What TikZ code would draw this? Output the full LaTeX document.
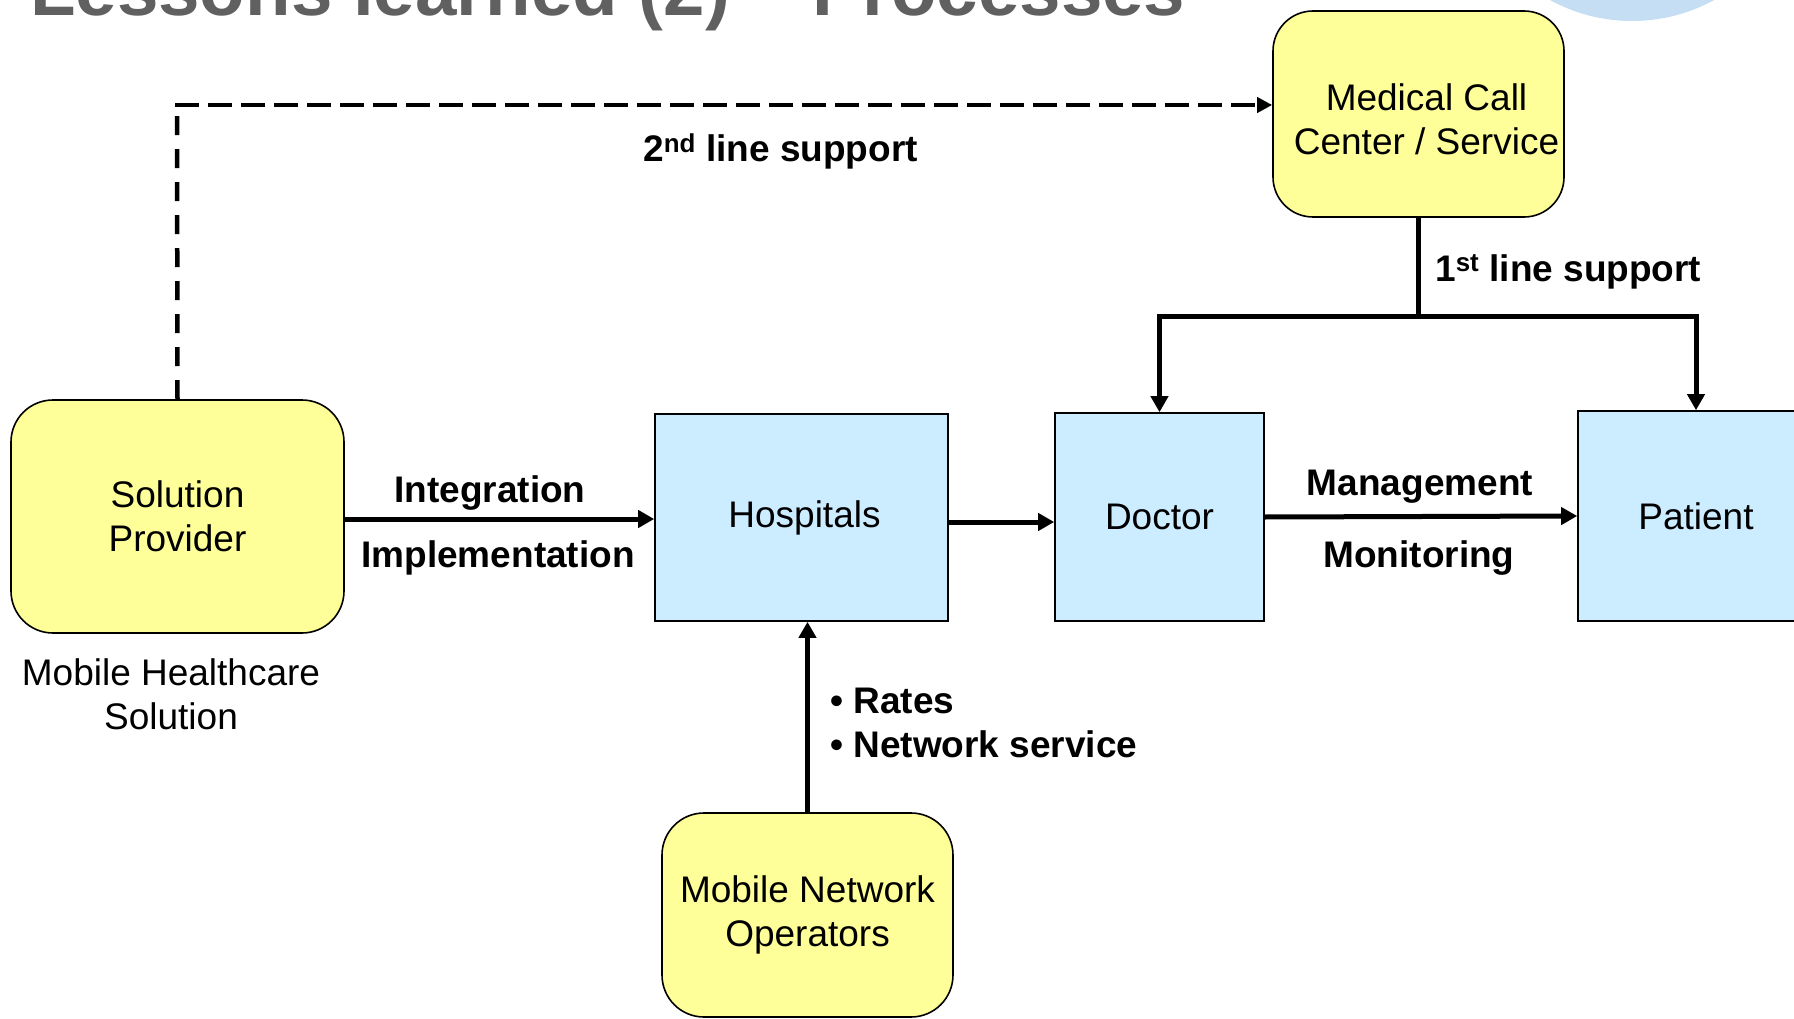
\documentclass[tikz,border=0pt]{standalone}
\usepackage{fontspec}
\setmainfont{Liberation Sans}
\usetikzlibrary{arrows.meta}
\definecolor{boxyellow}{HTML}{FFFF99}
\definecolor{boxblue}{HTML}{CCECFF}
\definecolor{titlegray}{HTML}{606060}
\definecolor{bubble}{HTML}{C6DEF4}
\begin{document}
\begin{tikzpicture}[x=1pt,y=-1pt,
  txt/.style={font=\fontsize{37}{44}\selectfont},
  lbl/.style={font=\fontsize{37}{44}\selectfont\bfseries},
  ybox/.style={draw=black, line width=1.6pt, fill=boxyellow, rounded corners=42pt, inner sep=0pt, align=center, txt},
  bbox/.style={draw=black, line width=1.6pt, fill=boxblue, inner sep=0pt, align=center, txt},
  conn/.style={line width=5pt, -{Triangle[length=16pt,width=17pt]}},
  dashconn/.style={line width=4.5pt},
]
\useasboundingbox (0,0) rectangle (1794,1019);
\begin{scope}
\clip (0,0) rectangle (1794,1019);
\fill[bubble] (1632,-150) circle[radius=171];
\node[anchor=base west, font=\fontsize{74.5}{80}\selectfont\bfseries, text=titlegray, inner sep=0pt] (title) at (30,16) {Lessons learned (2) – Processes};

% boxes
\node[ybox, minimum width=333, minimum height=233] (sp) at (177.5,516.5) {Solution\\Provider};
\node[ybox, minimum width=291, minimum height=206, rounded corners=40pt] (mcc) at (1418.5,114) {\rule{0pt}{37pt}\hspace*{16pt}Medical Call\\\hspace*{16pt}Center / Service};
\node[bbox, minimum width=293, minimum height=207] (hosp) at (801.5,517.5) {\hspace*{6pt}Hospitals};
\node[bbox, minimum width=209, minimum height=208] (doc) at (1159.5,517) {Doctor};
\node[bbox, minimum width=236, minimum height=210] (pat) at (1696,516) {Patient};
\node[ybox, minimum width=291, minimum height=204] (mno) at (807.5,915) {Mobile Network\\Operators};

% connectors
\coordinate (dc) at (177,105);
\draw[dashconn, dash pattern=on 19pt off 14pt] (sp.north) -- (dc);
\draw[dashconn, dash pattern=on 24pt off 9pt, -{Triangle[length=15pt,width=15pt]}] ([xshift=-2pt]dc) -- (dc -| mcc.west);

\coordinate (j) at (1418.5,316);
\draw[line width=5pt] (mcc.south) -- (j);
\draw[conn] (j) -| (doc.north);
\draw[conn] (j) -| (pat.north);

\coordinate (r1) at (0,519);
\coordinate (r2) at (0,522);
\draw[conn] (sp.east |- r1) -- (hosp.west |- r1);
\draw[conn] (hosp.east |- r2) -- (doc.west |- r2);
\draw[conn] (doc.east) -- (pat.west);
\draw[conn] (mno.north) -- (mno.north |- hosp.south);

% labels
\node[lbl, anchor=base west, inner sep=0pt] (l2) at (643,162) {2\textsuperscript{nd} line support};
\node[lbl, anchor=base west, inner sep=0pt] (l1) at (1435,281) {1\textsuperscript{st} line support};
\node[lbl, anchor=base, inner sep=0pt] (lint) at (490,502) {Integration};
\node[lbl, anchor=base, inner sep=0pt] (limp) at (498,567) {Implementation};
\node[lbl, anchor=base, inner sep=0pt] (lman) at (1420,495) {Management};
\node[lbl, anchor=base, inner sep=0pt] (lmon) at (1419,567) {Monitoring};
\node[lbl, anchor=west, align=left, inner sep=0pt] (lrates) at (830,723) {• Rates\\• Network service};
\node[txt, align=center, inner sep=0pt] (mhs) at (171,694) {Mobile Healthcare\\Solution};
\end{scope}
\end{tikzpicture}
\end{document}
